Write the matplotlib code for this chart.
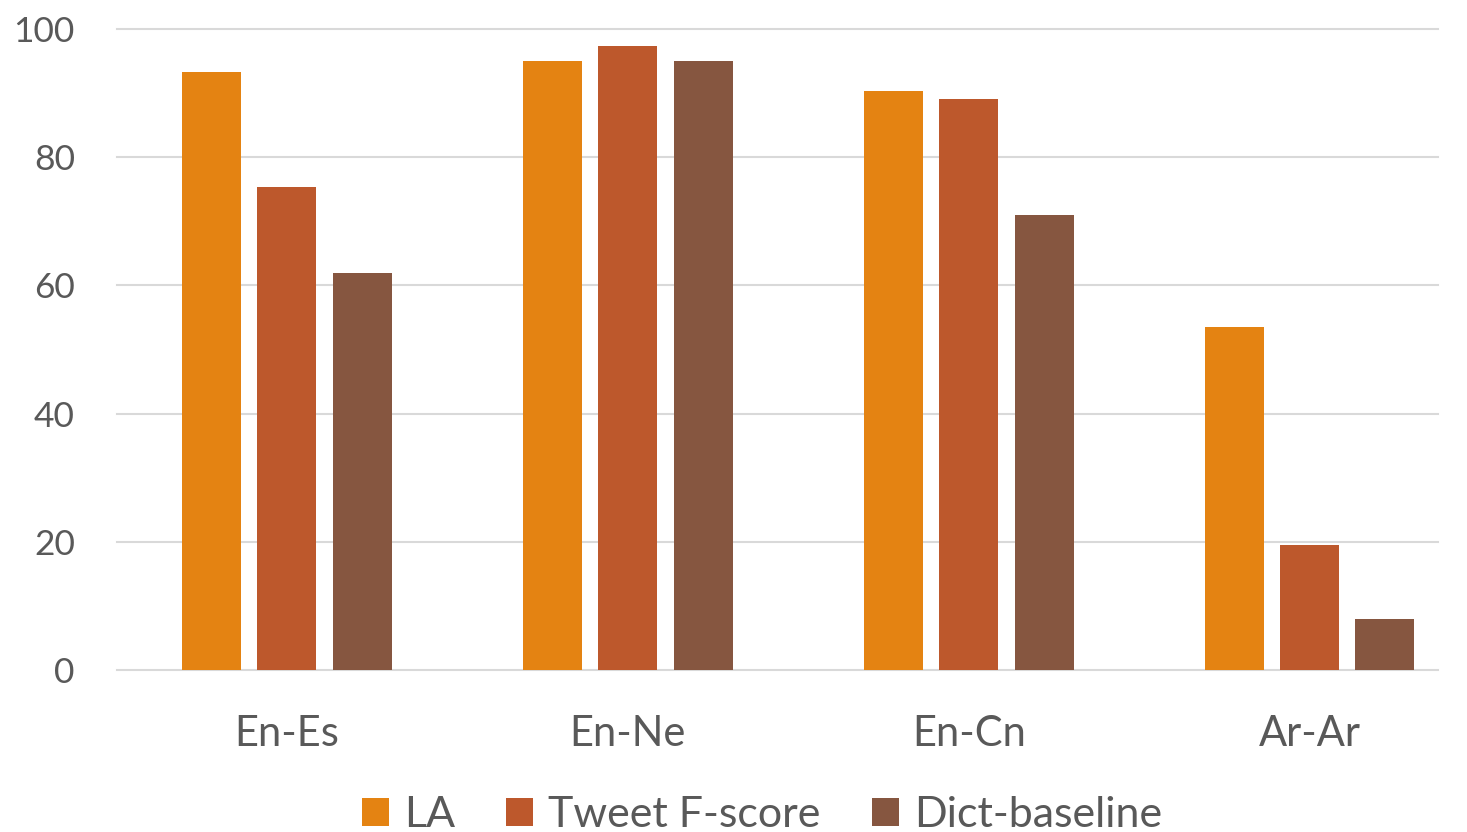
import numpy as np
import matplotlib.pyplot as plt
from matplotlib.patches import Patch

plt.rcParams["font.family"] = ["Lato", "DejaVu Sans"]

categories = ["En-Es", "En-Ne", "En-Cn", "Ar-Ar"]
series_names = ["LA", "Tweet F-score", "Dict-baseline"]
la_vals = [93.3, 95.0, 90.3, 53.5]
tweet_vals = [75.4, 97.3, 89.1, 19.5]
dict_vals = [61.9, 95.0, 71.0, 8.0]
colors = ["#E48312", "#BD582C", "#865640"]
grid_col = "#D9D9D9"
text_col = "#595959"

W, H = 1467, 832
fig = plt.figure(figsize=(W / 100, H / 100), dpi=100)
# plot area runs past the right edge of the canvas; grid stops at x=1438
left, right, top, bottom = 116.5, 1480, 29, 670
ax = fig.add_axes([left / W, 1 - bottom / H, (right - left) / W, (bottom - top) / H])
ax.patch.set_visible(False)

x = np.arange(len(categories))
width = 0.173
step = 0.221
for k, (vals, col) in enumerate(zip([la_vals, tweet_vals, dict_vals], colors)):
    ax.bar(x + (k - 1) * step, vals, width, color=col, zorder=3)

ax.set_xlim(-0.5, len(categories) - 0.5)
ax.set_ylim(0, 100)
yticks = list(range(0, 101, 20))
ax.set_yticks(yticks)
grid_end = (1438 - left) / (right - left)
for yv in yticks:
    ax.axhline(yv, xmin=0, xmax=grid_end, color=grid_col, linewidth=1.5, zorder=1,
               clip_on=False)
ax.set_xticks(x)
ax.set_xticklabels(categories)
for s in ax.spines.values():
    s.set_visible(False)
ax.tick_params(axis="both", length=0, labelcolor=text_col)
ax.tick_params(axis="y", pad=30, labelsize=25.5)
ax.tick_params(axis="x", pad=32.5, labelsize=30)

handles = [Patch(facecolor=c, label=n) for c, n in zip(colors, series_names)]
fig.legend(handles=handles, loc="center", bbox_to_anchor=(762 / W, 1 - 815 / H), ncol=3,
           frameon=False, fontsize=31, labelcolor=text_col, handlelength=0.63,
           handleheight=0.63, handletextpad=0.35, columnspacing=1.18,
           borderpad=0, borderaxespad=0)

fig.savefig("out.png", dpi=100)
